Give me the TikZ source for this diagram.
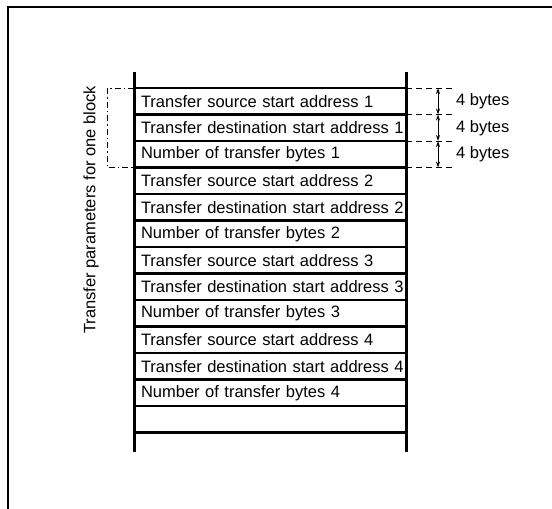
\documentclass[tikz,border=0pt]{standalone}
\usepackage{fontspec}
\setmainfont{Liberation Sans}
\usetikzlibrary{positioning,arrows.meta}

\begin{document}
\begin{tikzpicture}[
    x=1pt, y=-1pt,
    font=\fontsize{16.5}{18}\selectfont,
    row/.style={draw, line width=2.4pt, outer sep=0pt, inner xsep=0pt, inner ysep=0pt,
      text width=272pt, align=left, minimum height=26.5pt,
      execute at begin node=\hspace*{7pt}},
    rail/.style={line width=3pt},
    frame/.style={line width=1.8pt},
    dimline/.style={dash pattern=on 6pt off 4pt, line width=0.9pt},
    bracket/.style={dash pattern=on 6pt off 3pt on 1.5pt off 3pt, line width=0.9pt},
    dimarrow/.style={{Stealth[length=6pt,width=4pt,open]}-{Stealth[length=6pt,width=4pt,open]}, line width=0.8pt}
  ]
  \useasboundingbox (0,0) rectangle (552,509);
  % outer frame, cut off at the right and bottom
  \draw[frame] (8,509) -- (8,7) -- (552,7);

  % memory table
  \node[row] (r1) at (270,101.25) {Transfer source start address 1};
  \node[row, below=0pt of r1] (r2) {Transfer destination start address 1};
  \node[row, below=0pt of r2] (r3) {Number of transfer bytes 1};
  \node[row, below=0pt of r3] (r4) {Transfer source start address 2};
  \node[row, below=0pt of r4] (r5) {Transfer destination start address 2};
  \node[row, below=0pt of r5] (r6) {Number of transfer bytes 2};
  \node[row, below=0pt of r6] (r7) {Transfer source start address 3};
  \node[row, below=0pt of r7] (r8) {Transfer destination start address 3};
  \node[row, below=0pt of r8] (r9) {Number of transfer bytes 3};
  \node[row, below=0pt of r9] (r10) {Transfer source start address 4};
  \node[row, below=0pt of r10] (r11) {Transfer destination start address 4};
  \node[row, below=0pt of r11] (r12) {Number of transfer bytes 4};
  \node[row, below=0pt of r12] (r13) {};

  \coordinate (lt) at (134,72);
  \coordinate (lb) at (134,452);
  \coordinate (rt) at (406,72);
  \coordinate (rb) at (406,452);
  \draw[rail] (lt) -- (lb);
  \draw[rail] (rt) -- (rb);

  % size marks on the right
  \coordinate (d0) at (455,88);
  \coordinate (d1) at (455,114.5);
  \coordinate (d2) at (455,141);
  \coordinate (d3) at (455,167.5);
  \draw[dimline] (r1.north east) -- (d0);
  \draw[dimline] (r2.north east) -- (d1);
  \draw[dimline] (r3.north east) -- (d2);
  \draw[dimline] (r3.south east) -- (d3);
  \coordinate (a0) at (438,88);
  \coordinate (a1) at (438,114.5);
  \coordinate (a2) at (438,141);
  \coordinate (a3) at (438,167.5);
  \draw[dimarrow] (a0) -- (a1);
  \draw[dimarrow] (a1) -- (a2);
  \draw[dimarrow] (a2) -- (a3);
  \node[anchor=west, inner sep=0pt] (s1) at (456,101.25) {4 bytes};
  \node[anchor=west, inner sep=0pt] (s2) at (456,127.75) {4 bytes};
  \node[anchor=west, inner sep=0pt] (s3) at (456,154.25) {4 bytes};

  % one block bracket on the left
  \coordinate (b0) at (107,88);
  \coordinate (b1) at (107,167.5);
  \draw[bracket] (r1.north west) -- (b0) -- (b1) -- (r3.south west);
  \node[rotate=90, inner sep=0pt] (blk) at (91,210) {Transfer parameters for one block};
\end{tikzpicture}
\end{document}
